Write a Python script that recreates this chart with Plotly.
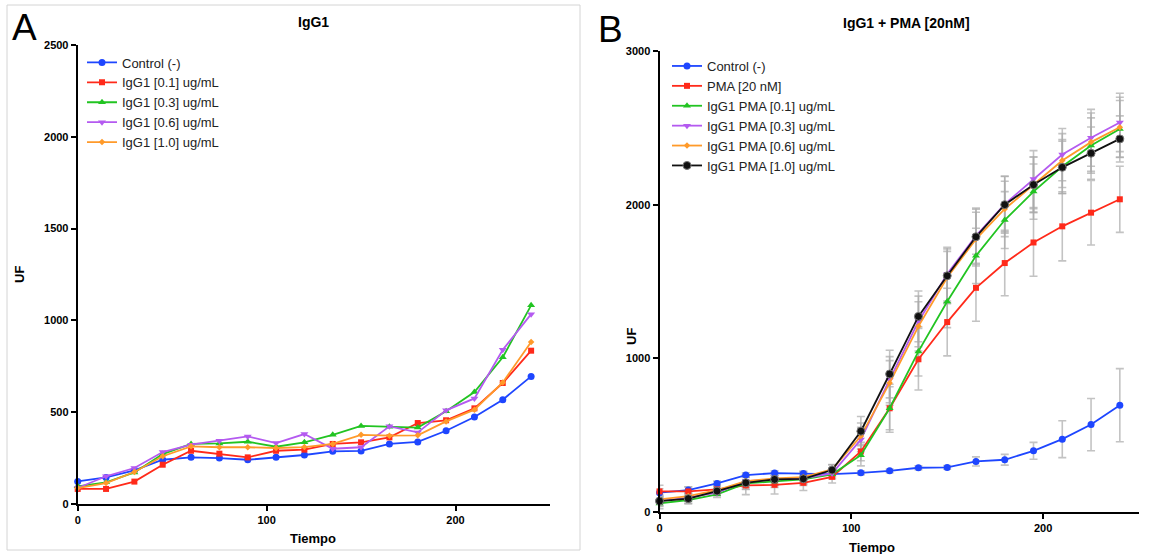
import plotly.graph_objects as go

W, H = 1154, 554

# Sampling times (min)
tiempo = [0, 15, 30, 45, 60, 75, 90, 105, 120, 135, 150, 165, 180, 195, 210, 225, 240]

# Panel A: IgG1 alone
ctrl_a = [123, 145, 183, 241, 254, 250, 241, 254, 267, 287, 289, 327, 338, 399, 474, 568, 695]
igg_01 = [82, 82, 122, 214, 290, 274, 254, 290, 296, 327, 336, 363, 441, 456, 521, 659, 835]
igg_03 = [96, 118, 172, 272, 327, 330, 339, 312, 336, 377, 425, 421, 416, 505, 610, 799, 1082]
igg_06 = [87, 151, 196, 283, 323, 345, 368, 332, 381, 301, 309, 423, 390, 510, 575, 840, 1034]
igg_10 = [87, 114, 174, 260, 314, 309, 309, 305, 310, 327, 377, 372, 374, 450, 514, 662, 882]

# Panel B: IgG1 + PMA 20 nM (means and SD)
ctrl_b = [126, 143, 186, 240, 253, 251, 247, 255, 268, 288, 290, 329, 340, 398, 474, 569, 695]
pma = [134, 134, 147, 173, 177, 190, 229, 394, 675, 994, 1236, 1459, 1620, 1754, 1859, 1948, 2035]
pma_01 = [56, 78, 115, 186, 199, 212, 245, 370, 675, 1045, 1370, 1667, 1900, 2085, 2248, 2385, 2493]
pma_03 = [71, 93, 126, 201, 212, 219, 251, 472, 861, 1240, 1548, 1798, 2004, 2167, 2326, 2435, 2535]
pma_06 = [82, 104, 143, 201, 219, 227, 277, 494, 840, 1208, 1526, 1776, 1972, 2130, 2287, 2407, 2504]
pma_10 = [71, 87, 136, 190, 212, 216, 273, 526, 898, 1273, 1537, 1791, 2000, 2130, 2243, 2335, 2428]

sd_ctrl_b = [25, 20, 15, 15, 15, 15, 15, 12, 12, 12, 12, 30, 35, 55, 120, 170, 238]
sd_pma = [40, 30, 30, 60, 60, 50, 40, 60, 156, 200, 220, 218, 213, 220, 225, 210, 215]
sd_pma_01 = [35, 25, 20, 40, 40, 40, 30, 70, 140, 160, 170, 180, 185, 180, 175, 180, 185]
sd_pma_03 = [30, 25, 20, 40, 40, 35, 30, 80, 150, 165, 175, 180, 180, 185, 170, 185, 190]
sd_pma_06 = [30, 25, 25, 40, 40, 35, 30, 85, 145, 160, 170, 175, 180, 180, 175, 190, 195]
sd_pma_10 = [35, 30, 25, 40, 40, 35, 35, 95, 155, 165, 175, 180, 185, 180, 170, 170, 150]

names_a = ["Control (-)", "IgG1 [0.1] ug/mL", "IgG1 [0.3] ug/mL",
           "IgG1 [0.6] ug/mL", "IgG1 [1.0] ug/mL"]
names_b = ["Control (-)", "PMA [20 nM]", "IgG1 PMA [0.1] ug/mL", "IgG1 PMA [0.3] ug/mL",
           "IgG1 PMA [0.6] ug/mL", "IgG1 PMA [1.0] ug/mL"]

BLUE = "#1e46ff"
RED = "#ff2a1a"
GREEN = "#22c422"
PURPLE = "#b45af0"
ORANGE = "#ff9a2a"
BLACK = "#111111"
FONT = "Liberation Sans, Arial, sans-serif"

styles_a = [
    (BLUE, "circle", 7),
    (RED, "square", 6),
    (GREEN, "triangle-up", 7),
    (PURPLE, "triangle-down", 7),
    (ORANGE, "diamond", 5),
]
styles_b = styles_a[:1] + [(RED, "square", 6), (GREEN, "triangle-up", 7),
                           (PURPLE, "triangle-down", 7), (ORANGE, "diamond", 5),
                           (BLACK, "circle", 8)]


def px_x(p):
    return p / W


def px_y(p):
    return 1 - p / H


fig = go.Figure()

# Panel A series
for vals, name, (col, sym, sz) in zip([ctrl_a, igg_01, igg_03, igg_06, igg_10], names_a, styles_a):
    fig.add_trace(go.Scatter(
        x=tiempo, y=vals, name=name, mode="lines+markers",
        line=dict(color=col, width=1.8),
        marker=dict(color=col, symbol=sym, size=sz),
        xaxis="x", yaxis="y", legend="legend", cliponaxis=False,
    ))

# Panel B: SD bars underneath the lines
series_b = [ctrl_b, pma, pma_01, pma_03, pma_06, pma_10]
sds_b = [sd_ctrl_b, sd_pma, sd_pma_01, sd_pma_03, sd_pma_06, sd_pma_10]
for vals, sd in zip(series_b, sds_b):
    fig.add_trace(go.Scatter(
        x=tiempo, y=vals, mode="markers", showlegend=False, hoverinfo="skip",
        marker=dict(size=1, color="rgba(0,0,0,0)"),
        error_y=dict(type="data", array=sd, visible=True,
                     color="rgba(170,170,170,0.7)", thickness=1.6, width=4),
        xaxis="x2", yaxis="y2", cliponaxis=False,
    ))

for vals, name, (col, sym, sz) in zip(series_b, names_b, styles_b):
    mk = dict(color=col, symbol=sym, size=sz)
    if col == BLACK:
        mk["line"] = dict(color="#777777", width=1)
    fig.add_trace(go.Scatter(
        x=tiempo, y=vals, name=name, mode="lines+markers",
        line=dict(color=col, width=1.8),
        marker=mk,
        xaxis="x2", yaxis="y2", legend="legend2", cliponaxis=False,
    ))

tickfont = dict(family=FONT, size=11, color="black", weight="bold")
axis_common = dict(showgrid=False, zeroline=False, showline=True, linecolor="black",
                   linewidth=2, ticks="outside", ticklen=5, tickwidth=2, tickcolor="black",
                   tickfont=tickfont, fixedrange=True, automargin=False)

legend_common = dict(font=dict(family=FONT, size=13, color="#222"), bgcolor="rgba(0,0,0,0)",
                     tracegroupgap=0, itemclick=False, xanchor="left", yanchor="top")

fig.update_layout(
    width=W, height=H,
    margin=dict(l=0, r=0, t=0, b=0, pad=0, autoexpand=False),
    paper_bgcolor="white", plot_bgcolor="white",
    showlegend=True,
    xaxis=dict(domain=[px_x(77.7), px_x(550)], range=[0, 250],
               tickvals=[0, 100, 200], anchor="y", **axis_common),
    yaxis=dict(domain=[px_y(504), px_y(45)], range=[0, 2500],
               tickvals=[0, 500, 1000, 1500, 2000, 2500], anchor="x", **axis_common),
    xaxis2=dict(domain=[px_x(659.5), px_x(1139)], range=[0, 250],
                tickvals=[0, 100, 200], anchor="y2", **axis_common),
    yaxis2=dict(domain=[px_y(512), px_y(51)], range=[0, 3000],
                tickvals=[0, 1000, 2000, 3000], anchor="x2", **axis_common),
    legend=dict(x=px_x(82), y=px_y(47.5), **legend_common),
    legend2=dict(x=px_x(667), y=px_y(51), **legend_common),
)

ann_font_bold = dict(family=FONT, color="black", weight="bold")
annotations = [
    dict(text="A", x=px_x(24), y=px_y(27), font=dict(family=FONT, size=37, color="black")),
    dict(text="B", x=px_x(610), y=px_y(30), font=dict(family=FONT, size=37, color="black")),
    dict(text="IgG1", x=px_x(313), y=px_y(22), font=dict(size=14, **ann_font_bold)),
    dict(text="IgG1 + PMA [20nM]", x=px_x(906), y=px_y(23), font=dict(size=14, **ann_font_bold)),
    dict(text="Tiempo", x=px_x(313), y=px_y(538), font=dict(size=13, **ann_font_bold)),
    dict(text="Tiempo", x=px_x(872), y=px_y(547), font=dict(size=13, **ann_font_bold)),
    dict(text="UF", x=px_x(19), y=px_y(275), textangle=-90, font=dict(size=13, **ann_font_bold)),
    dict(text="UF", x=px_x(631), y=px_y(337), textangle=-90, font=dict(size=13, **ann_font_bold)),
]
for a in annotations:
    a.update(xref="paper", yref="paper", showarrow=False, xanchor="center", yanchor="middle")
fig.update_layout(annotations=annotations)

# Light frame around panel A
fig.add_shape(type="rect", xref="paper", yref="paper",
              x0=px_x(7), x1=px_x(580), y0=px_y(550), y1=px_y(5),
              line=dict(color="#d4d4d4", width=1), fillcolor="rgba(0,0,0,0)", layer="below")

fig.write_html("out.html")
